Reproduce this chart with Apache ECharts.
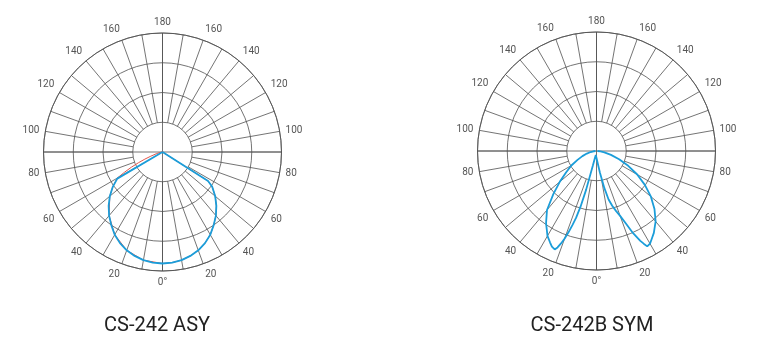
<!DOCTYPE html>
<html>
<head>
<meta charset="utf-8">
<script src="https://cdn.jsdelivr.net/npm/echarts@6/dist/echarts.min.js"></script>
<style>
html,body{margin:0;padding:0;background:#fff;}
#c{width:770px;height:362px;}
</style>
</head>
<body>
<div id="c"></div>
<script>
// ---- data (radius in % of outer ring, angle in degrees from nadir) ----
const titles = ['CS-242 ASY', 'CS-242B SYM'];
const angleTicks = [0, 20, 40, 60, 80, 100, 120, 140, 160, 180];

// CS-242 ASY – blue (C-plane drawn on top)
const asyBlueLeftAngles  = [0, 5, 10, 15, 20, 25, 30, 35, 40, 45, 50, 55, 59.5, 90];
const asyBlueLeftValues  = [93.7, 93.3, 92.3, 90.4, 87.9, 84.5, 80.3, 75.0, 69.8, 64.0, 57.8, 51.0, 44.1, 0];
const asyBlueRightAngles = [0, 5, 10, 15, 20, 25, 30, 35, 40, 45, 50, 55, 57.5, 90];
const asyBlueRightValues = [93.7, 93.3, 92.3, 90.4, 87.9, 84.5, 80.3, 75.0, 69.8, 64.0, 57.8, 51.0, 45.4, 0];
// CS-242 ASY – red (mostly hidden under the blue one)
const asyRedLeftAngles   = [0, 10, 20, 30, 40, 50, 55, 60, 62, 64, 66, 68, 70, 75, 80, 90];
const asyRedLeftValues   = [93.7, 92.3, 87.9, 80.3, 69.8, 57.8, 51.0, 44.0, 36.0, 29.0, 22.0, 16.0, 11.0, 5.0, 2.0, 0];
const asyRedRightAngles  = asyBlueRightAngles;
const asyRedRightValues  = asyBlueRightValues;

// CS-242B SYM – blue
const symLeftAngles  = [0, 5, 10, 13, 14, 15, 16, 17, 18, 19, 20, 21, 22, 23, 24, 25, 27, 30, 35, 40, 45, 50, 55, 60, 65, 70, 75, 80, 85, 90];
const symLeftValues  = [1.3, 1.7, 3.4, 6.7, 12.6, 33.6, 48.7, 58.8, 65.5, 72.3, 78.2, 83.2, 87.4, 89.9, 89.5, 88.7, 86.1, 82.4, 73.9, 64.7, 51.3, 40.3, 31.1, 24.4, 17.6, 12.6, 8.4, 5.0, 2.5, 0.8];
const symRightAngles = [0, 5, 9, 12, 14, 16, 18, 20, 22, 24, 26, 27, 28, 29, 30, 32, 35, 40, 45, 50, 55, 60, 65, 70, 75, 80, 85, 90];
const symRightValues = [1.3, 5.0, 18.5, 31.9, 42.0, 47.9, 52.9, 58.0, 65.5, 75.6, 84.0, 87.4, 90.8, 91.2, 89.9, 87.4, 84.0, 77.3, 68.9, 59.7, 49.6, 39.5, 29.4, 20.2, 12.6, 6.7, 3.4, 0.8];

// ---- helpers ----
function path(leftA, leftV, rightA, rightV) {
  const out = [];
  for (let i = leftA.length - 1; i >= 0; i--) out.push([leftV[i], (360 - leftA[i]) % 360]);
  for (let i = 0; i < rightA.length; i++) out.push([rightV[i], rightA[i]]);
  return out;
}

const gridColor = '#505050';
const labelFmt = v => {
  if (v === 0) return '0°';
  if (v >= 360) return '';
  const a = v <= 180 ? v : 360 - v;
  return angleTicks.indexOf(a) >= 0 ? String(a) : '';
};

const centers = [[162.5, 152], [596.5, 151]];
const R = 119;
const polar = [], angleAxis = [], radiusAxis = [];
centers.forEach((c, k) => {
  // annular polar: 10° spokes + angle labels
  polar.push({ center: c, radius: [R / 4, R] });
  angleAxis.push({
    polarIndex: 2 * k, type: 'value', min: 0, max: 360, interval: 10,
    startAngle: 270, clockwise: false,
    axisLine: { show: false }, axisTick: { show: false },
    splitLine: { show: true, lineStyle: { color: gridColor, width: 0.8 } },
    axisLabel: { show: true, margin: 6, formatter: labelFmt, color: '#555',
                 fontSize: 10, fontFamily: 'Roboto' }
  });
  radiusAxis.push({ polarIndex: 2 * k, min: 0, max: 1, show: false,
                    axisLine: { show: false }, splitLine: { show: false }, axisLabel: { show: false } });
  // full polar: rings + cross + data
  polar.push({ center: c, radius: R });
  angleAxis.push({
    polarIndex: 2 * k + 1, type: 'value', min: 0, max: 360, interval: 90,
    startAngle: 270, clockwise: false,
    axisLine: { show: true, lineStyle: { color: gridColor, width: 0.8 } },
    axisTick: { show: false }, axisLabel: { show: false },
    splitLine: { show: true, lineStyle: { color: gridColor, width: 0.8 } }
  });
  radiusAxis.push({
    polarIndex: 2 * k + 1, type: 'value', min: 0, max: 100, interval: 25,
    axisLine: { show: false }, axisTick: { show: false }, axisLabel: { show: false },
    splitLine: { show: true, lineStyle: { color: gridColor, width: 0.8 } }
  });
});

const blue = '#1b9dd9';
const red = '#e0564c';
const lineSeries = (polarIndex, data, color, width, z) => ({
  type: 'line', coordinateSystem: 'polar', polarIndex, data,
  showSymbol: false, symbol: 'none', smooth: false, animation: false, z,
  lineStyle: { color, width }
});

const option = {
  animation: false,
  backgroundColor: '#fff',
  title: [
    { text: titles[0], left: 152, top: 311, textAlign: 'center',
      textStyle: { fontFamily: 'Roboto', fontWeight: 'normal', fontSize: 20, color: '#222' } },
    { text: titles[1], left: 587, top: 311, textAlign: 'center',
      textStyle: { fontFamily: 'Roboto', fontWeight: 'normal', fontSize: 20, color: '#222' } }
  ],
  polar, angleAxis, radiusAxis,
  series: [
    lineSeries(1, path(asyRedLeftAngles, asyRedLeftValues, asyRedRightAngles, asyRedRightValues), red, 1, 3),
    lineSeries(1, path(asyBlueLeftAngles, asyBlueLeftValues, asyBlueRightAngles, asyBlueRightValues), blue, 1.8, 4),
    lineSeries(3, path(symLeftAngles, symLeftValues, symRightAngles, symRightValues), blue, 1.8, 4)
  ]
};

const chart = echarts.init(document.getElementById('c'), null, { renderer: 'canvas' });
chart.setOption(option);
</script>
</body>
</html>
